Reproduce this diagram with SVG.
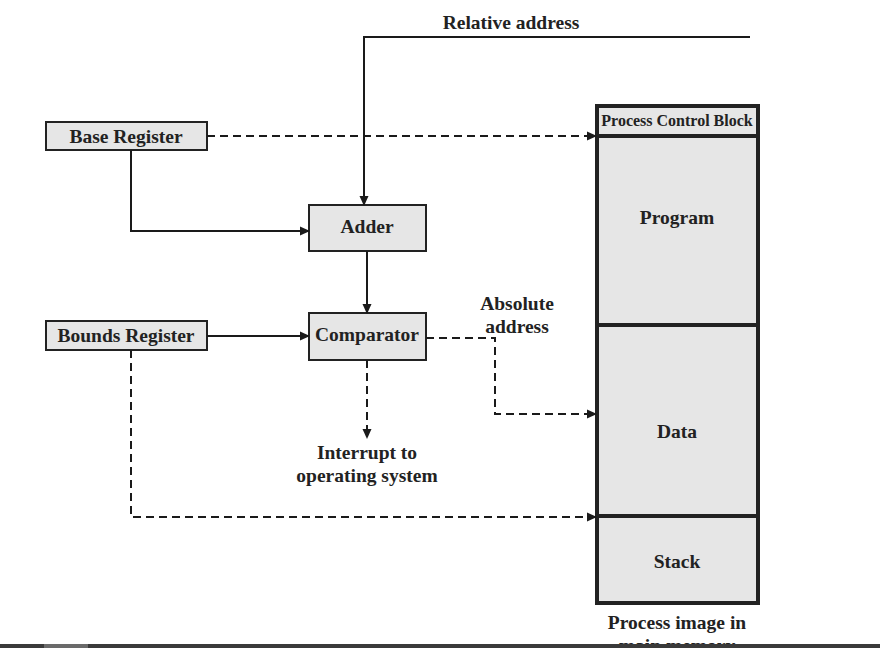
<svg xmlns="http://www.w3.org/2000/svg" width="880" height="648" viewBox="0 0 880 648">
<defs>
<marker id="ah" markerWidth="10" markerHeight="10" refX="9" refY="5" orient="auto" markerUnits="userSpaceOnUse">
<path d="M0,0.5 L10,5 L0,9.5 Z" fill="#1a1a1a"/>
</marker>
<style>
.box{fill:#e6e6e6;stroke:#222;stroke-width:2}
.mem{fill:#e6e6e6;stroke:#222;stroke-width:4}
.t{font-family:"Liberation Serif","Times New Roman",serif;font-weight:bold;font-size:19.5px;fill:#222;text-anchor:middle}
.s{fill:none;stroke:#1a1a1a;stroke-width:2}
.d{fill:none;stroke:#1a1a1a;stroke-width:2;stroke-dasharray:8,5}
</style>
</defs>
<rect width="880" height="648" fill="#fff"/>
<g id="memory">
<rect class="mem" x="597" y="106" width="161" height="497"/>
<line x1="597" y1="136" x2="758" y2="136" stroke="#222" stroke-width="4"/>
<line x1="597" y1="325" x2="758" y2="325" stroke="#222" stroke-width="4"/>
<line x1="597" y1="516" x2="758" y2="516" stroke="#222" stroke-width="4"/>
<text class="t" x="677" y="126" style="font-size:16px">Process Control Block</text>
<text class="t" x="677" y="224">Program</text>
<text class="t" x="677" y="438">Data</text>
<text class="t" x="677" y="568">Stack</text>
<text class="t" x="677" y="629">Process image in</text>
<text class="t" x="677" y="652">main memory</text>
</g>
<g id="base-register">
<rect class="box" x="46" y="122" width="161" height="28"/>
<text class="t" x="126" y="143">Base Register</text>
</g>
<g id="bounds-register">
<rect class="box" x="46" y="321" width="161" height="29"/>
<text class="t" x="126" y="342">Bounds Register</text>
</g>
<g id="adder">
<rect class="box" x="309" y="205" width="117" height="46"/>
<text class="t" x="367" y="233">Adder</text>
</g>
<g id="comparator">
<rect class="box" x="309" y="313" width="117" height="47"/>
<text class="t" x="367" y="341">Comparator</text>
</g>
<g id="labels">
<text class="t" x="511" y="29">Relative address</text>
<text class="t" x="517" y="310">Absolute</text>
<text class="t" x="517" y="333">address</text>
<text class="t" x="367" y="459">Interrupt to</text>
<text class="t" x="367" y="482">operating system</text>
</g>
<g id="connectors">
<path class="s" d="M750,37 H364 V205" marker-end="url(#ah)"/>
<path class="d" d="M207,136 H596" marker-end="url(#ah)"/>
<path class="s" d="M131,150 V231 H309" marker-end="url(#ah)"/>
<path class="s" d="M367,251 V313" marker-end="url(#ah)"/>
<path class="s" d="M207,336 H309" marker-end="url(#ah)"/>
<path class="d" d="M426,338 H495 V414 H596" marker-end="url(#ah)"/>
<path class="d" d="M367,360 V438" marker-end="url(#ah)"/>
<path class="d" d="M131,350 V517 H596" marker-end="url(#ah)"/>
</g>
<rect x="0" y="644" width="880" height="4" fill="#3a3a3a"/>
<rect x="44" y="644" width="44" height="4" fill="#6a6a6a"/>
</svg>
